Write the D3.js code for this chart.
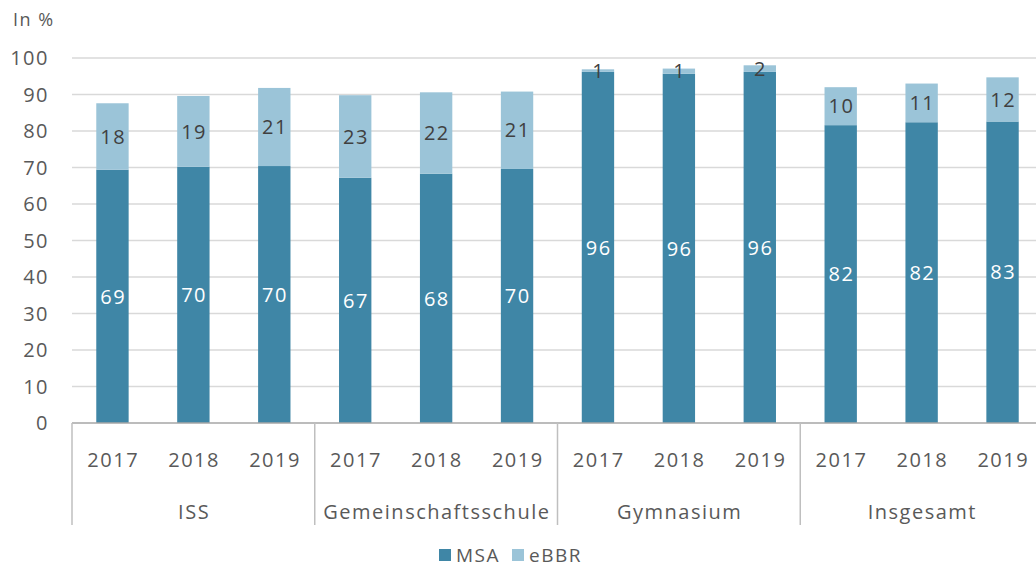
<!DOCTYPE html>
<html>
<head>
<meta charset="utf-8">
<script src="https://cdn.jsdelivr.net/npm/d3@7"></script>
<style>
body { margin: 0; background: #fff; }
text { font-family: "Open Sans", "Noto Sans", sans-serif; letter-spacing: 1.5px; }
</style>
</head>
<body>
<svg id="chart" width="1036" height="568"></svg>
<script>
var groups = ["ISS", "Gemeinschaftsschule", "Gymnasium", "Insgesamt"];
var years = ["2017", "2018", "2019"];
// values per bar, in group order (group x year)
var msa  = [69.4, 70.2, 70.4, 67.2, 68.3, 69.6, 96.2, 95.7, 96.2, 81.6, 82.4, 82.6];
var ebbr = [18.2, 19.4, 21.4, 22.6, 22.3, 21.2, 0.7, 1.4, 1.8, 10.4, 10.6, 12.1];
var yTicks = [0, 10, 20, 30, 40, 50, 60, 70, 80, 90, 100];
var seriesNames = ["MSA", "eBBR"];
var colors = ["#3f86a6", "#9bc4d8"];

var svg = d3.select("#chart");
var plotLeft = 72, plotRight = 1043, plotTop = 58, plotBottom = 423;

var bars = [];
groups.forEach(function(g, gi) {
  years.forEach(function(yr, yi) {
    var i = gi * years.length + yi;
    bars.push({key: i, group: g, year: yr, msa: msa[i], ebbr: ebbr[i]});
  });
});

var x = d3.scaleBand()
  .domain(bars.map(function(d) { return d.key; }))
  .range([plotLeft, plotRight])
  .paddingInner(0.6)
  .paddingOuter(0.3);

var y = d3.scaleLinear().domain([0, 100]).range([plotBottom, plotTop]);

// gridlines
svg.append("g")
  .selectAll("line")
  .data(yTicks.slice(1))
  .enter().append("line")
  .attr("x1", plotLeft).attr("x2", 1036)
  .attr("y1", function(d) { return y(d); })
  .attr("y2", function(d) { return y(d); })
  .attr("stroke", "#d9d9d9")
  .attr("stroke-width", 1.5);

// y tick labels
svg.append("g")
  .selectAll("text")
  .data(yTicks)
  .enter().append("text")
  .attr("x", 49)
  .attr("y", function(d) { return y(d); })
  .attr("dy", "0.36em")
  .attr("text-anchor", "end")
  .attr("fill", "#595959")
  .style("font-size", "20px")
  .text(function(d) { return d; });

svg.append("text")
  .attr("x", 13).attr("y", 26)
  .attr("fill", "#595959")
  .style("font-size", "18px")
  .text("In %");

// bars
var bg = svg.append("g");
bg.selectAll("rect.msa")
  .data(bars)
  .enter().append("rect")
  .attr("class", "msa")
  .attr("x", function(d) { return x(d.key); })
  .attr("width", x.bandwidth())
  .attr("y", function(d) { return y(d.msa); })
  .attr("height", function(d) { return y(0) - y(d.msa); })
  .attr("fill", colors[0]);

bg.selectAll("rect.ebbr")
  .data(bars)
  .enter().append("rect")
  .attr("class", "ebbr")
  .attr("x", function(d) { return x(d.key); })
  .attr("width", x.bandwidth())
  .attr("y", function(d) { return y(d.msa + d.ebbr); })
  .attr("height", function(d) { return y(d.msa) - y(d.msa + d.ebbr); })
  .attr("fill", colors[1]);

// labels
bg.selectAll("text.msa")
  .data(bars)
  .enter().append("text")
  .attr("class", "msa")
  .attr("x", function(d) { return x(d.key) + x.bandwidth() / 2 + 0.75; })
  .attr("y", function(d) { return y(d.msa / 2); })
  .attr("dy", "0.36em")
  .attr("text-anchor", "middle")
  .attr("fill", "#ffffff")
  .style("font-size", "20px")
  .text(function(d) { return Math.round(d.msa); });

bg.selectAll("text.ebbr")
  .data(bars)
  .enter().append("text")
  .attr("class", "ebbr")
  .attr("x", function(d) { return x(d.key) + x.bandwidth() / 2 + 0.75; })
  .attr("y", function(d) { return y(d.msa + d.ebbr / 2); })
  .attr("dy", "0.36em")
  .attr("text-anchor", "middle")
  .attr("fill", "#404040")
  .style("font-size", "20px")
  .text(function(d) { return Math.round(d.ebbr); });

// x axis line
svg.append("line")
  .attr("x1", plotLeft).attr("x2", 1036)
  .attr("y1", plotBottom).attr("y2", plotBottom)
  .attr("stroke", "#a6a6a6").attr("stroke-width", 1.5);

// year labels
svg.append("g")
  .selectAll("text")
  .data(bars)
  .enter().append("text")
  .attr("x", function(d) { return x(d.key) + x.bandwidth() / 2 + 0.75; })
  .attr("y", 460)
  .attr("dy", "0.36em")
  .attr("text-anchor", "middle")
  .attr("fill", "#595959")
  .style("font-size", "20px")
  .text(function(d) { return d.year; });

// group separators and labels
var groupW = x.step() * years.length;
svg.append("g")
  .selectAll("line")
  .data(d3.range(groups.length + 1))
  .enter().append("line")
  .attr("x1", function(i) { return plotLeft + i * groupW; })
  .attr("x2", function(i) { return plotLeft + i * groupW; })
  .attr("y1", plotBottom).attr("y2", 525)
  .attr("stroke", "#bfbfbf").attr("stroke-width", 1.5);

svg.append("g")
  .selectAll("text")
  .data(groups)
  .enter().append("text")
  .attr("x", function(g, i) { return plotLeft + (i + 0.5) * groupW + 0.75; })
  .attr("y", 512)
  .attr("dy", "0.36em")
  .attr("text-anchor", "middle")
  .attr("fill", "#595959")
  .style("font-size", "20px")
  .text(function(g) { return g; });

// legend
var legX = [439, 512];
var lg = svg.append("g")
  .selectAll("g")
  .data(seriesNames)
  .enter().append("g")
  .attr("transform", function(d, i) { return "translate(" + legX[i] + ",549)"; });
lg.append("rect")
  .attr("width", 12).attr("height", 12)
  .attr("fill", function(d, i) { return colors[i]; });
lg.append("text")
  .attr("x", 17).attr("y", 6)
  .attr("dy", "0.36em")
  .attr("fill", "#595959")
  .style("font-size", "19px")
  .text(function(d) { return d; });
</script>
</body>
</html>
